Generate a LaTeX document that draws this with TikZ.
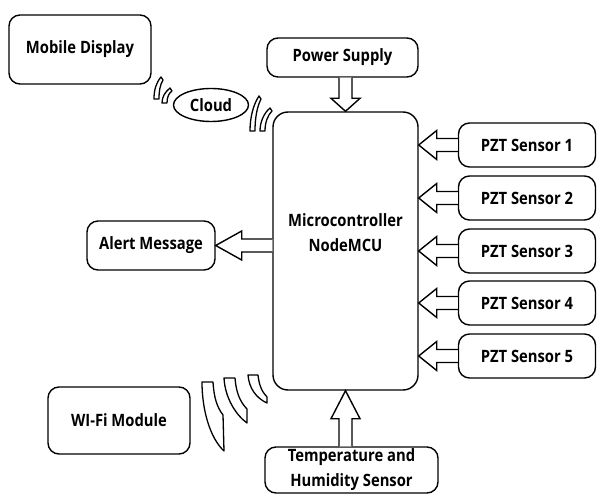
\documentclass[tikz,border=0pt]{standalone}
\usepackage{fontspec}
\setmainfont{Open Sans}[FakeStretch=0.87]
\usetikzlibrary{calc,positioning,shapes.geometric}

\tikzset{
  box/.style={draw, line width=1.4pt, rounded corners=11pt, align=center, inner sep=0pt,
    font=\bfseries\fontsize{17}{25}\selectfont},
  cloudnode/.style={draw, ellipse, line width=1.4pt, inner sep=0pt, minimum width=75pt,
    minimum height=33pt, font=\bfseries\fontsize{17}{25}\selectfont},
  blk/.style={draw, line width=1.4pt, fill=white, line join=miter},
  wave/.style={draw, line width=1.3pt, fill=white, line join=round},
}

% hollow block arrow, optional arg = head length
\newcommand{\blkarrow}[3][18]{%
  \path (#2); \pgfgetlastxy{\ax}{\ay}%
  \path (#3); \pgfgetlastxy{\bx}{\by}%
  \pgfmathsetmacro{\arang}{atan2(\by-\ay,\bx-\ax)}%
  \pgfmathsetmacro{\arlen}{veclen(\bx-\ax,\by-\ay)}%
  \begin{scope}[shift={(\ax,\ay)}, rotate=\arang]
    \draw[blk] (0,-6.5) -- (\arlen-#1,-6.5) -- (\arlen-#1,-14.5) -- (\arlen,0)
      -- (\arlen-#1,14.5) -- (\arlen-#1,6.5) -- (0,6.5);
  \end{scope}}

\begin{document}
\begin{tikzpicture}[x=1pt, y=-1pt]
\useasboundingbox (0,0) rectangle (597,494);

\node[box, minimum width=142pt, minimum height=69pt] (mobile) at (80,49.5) {Mobile Display};
\node[box, minimum width=151pt, minimum height=39pt] (ps) at (342.5,57.5) {Power Supply};
\node[box, rounded corners=15pt, minimum width=145pt, minimum height=278pt, text depth=36pt] (mcu) at (345.5,251) {Microcontroller\\NodeMCU};
\node[box, minimum width=128pt, minimum height=49pt] (alert) at (151,245.5) {Alert Message};
\node[box, minimum width=142pt, minimum height=67pt] (wifi) at (119,420.5) {WI-Fi Module};
\node[box, minimum width=173pt, minimum height=46pt] (tmp) at (351.5,470) {Temperature and\\Humidity Sensor};
\node[cloudnode] (cloud) at (211,105) {Cloud};

% sensors
\foreach \i/\y in {1/145, 2/198, 3/251, 4/303, 5/356}{
  \node[box, minimum width=137pt, minimum height=44pt] (s\i) at (527,\y) {PZT Sensor \i};
}

% block arrows
\blkarrow[13]{mcu.north |- ps.south}{mcu.north}
\blkarrow[28]{mcu.south |- tmp.north}{mcu.south}
\blkarrow[26]{mcu.west |- alert.east}{alert.east}
\foreach \i in {1,...,5}{
  \blkarrow{s\i.west}{s\i.west -| mcu.east}
}

% wifi waves
\draw[wave] (202,382) -- (213,382) .. controls (214,398) and (217,407) .. (223,415) -- (224,451)
  .. controls (210,438) and (202,410) .. cycle;
\draw[wave] (224,378) -- (235,378) .. controls (236,392) and (240,402) .. (247,409) -- (247,423)
  .. controls (236,415) and (225,398) .. cycle;
\draw[wave] (248,375) -- (258,375) .. controls (259,385) and (262,392) .. (267,397) -- (267,403)
  .. controls (256,398) and (249,388) .. cycle;

% cloud waves
\draw[wave] (154,99) -- (159,99) .. controls (159,91) and (160,85) .. (163,80) -- (161,77)
  .. controls (156,83) and (154,90) .. cycle;
\draw[wave] (162,103) -- (167,103) .. controls (167,97) and (169,93) .. (172,91) -- (170,88)
  .. controls (165,92) and (162,97) .. cycle;
\draw[wave] (250,131) -- (255,131) .. controls (255,118) and (257,107) .. (261,99) -- (259,96)
  .. controls (253,105) and (250,118) .. cycle;
\draw[wave] (260,131) -- (265,131) .. controls (265,122) and (268,115) .. (272,111) -- (270,108)
  .. controls (264,113) and (260,122) .. cycle;
\end{tikzpicture}
\end{document}
